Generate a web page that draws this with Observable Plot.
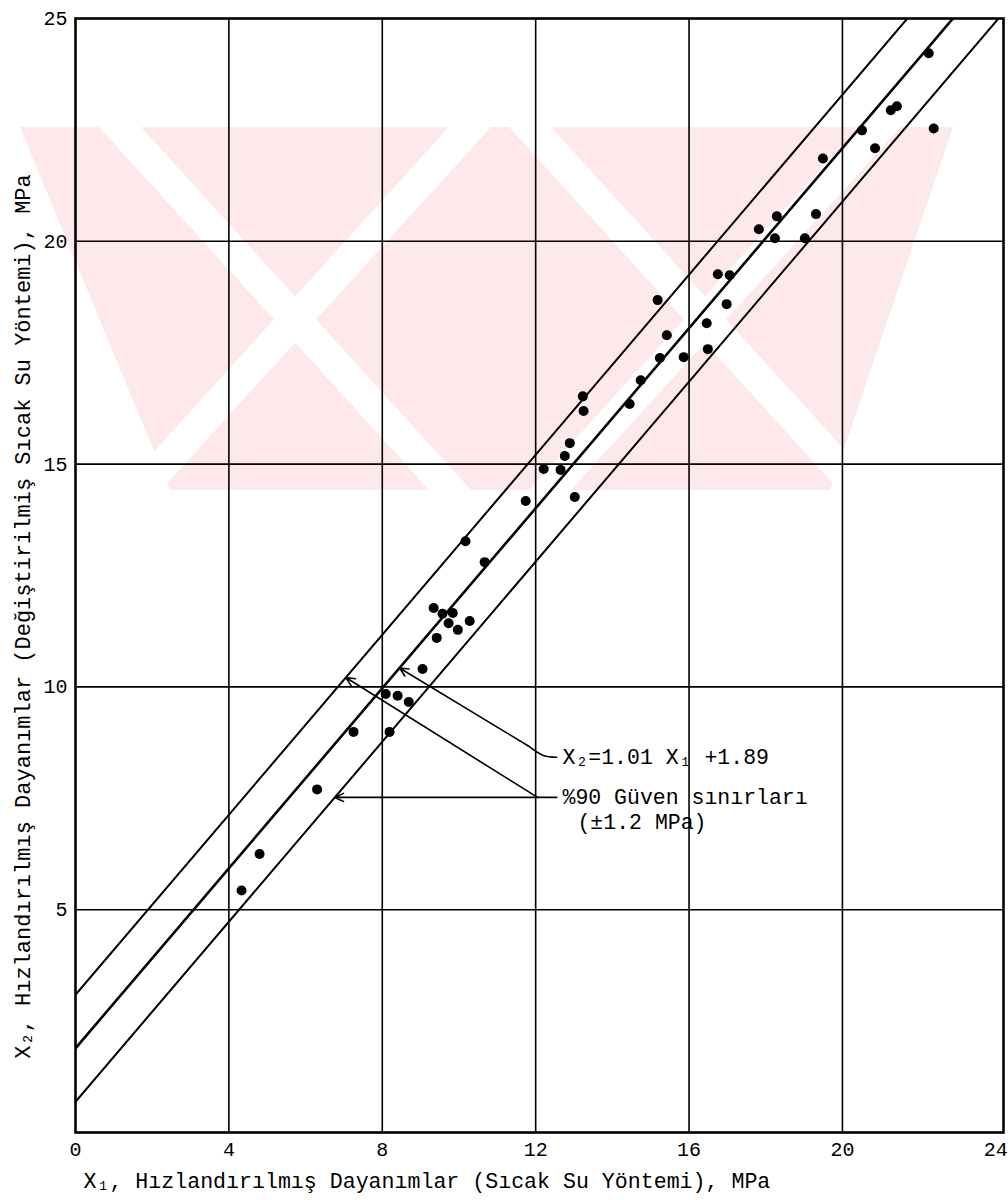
<!DOCTYPE html>
<html>
<head>
<meta charset="utf-8">
<script src="https://cdn.jsdelivr.net/npm/d3@7"></script>
<script src="https://cdn.jsdelivr.net/npm/@observablehq/plot@0.6"></script>
<style>
  body { margin: 0; background: #fff; }
  #chart { width: 1008px; height: 1200px; }
</style>
</head>
<body>
<div id="chart"></div>
<script>
// Accelerated (hot-water) strength X1 vs. modified hot-water strength X2, MPa
const x1Values = [4.33, 4.80, 6.30, 7.25, 8.19, 8.09, 8.40, 8.69, 9.05, 9.42,
  9.73, 9.97, 10.28, 9.34, 9.57, 9.84, 10.67, 10.17, 11.74, 12.21,
  12.65, 12.76, 12.89, 13.02, 13.23, 13.25, 14.45, 14.74, 15.18, 15.24,
  15.42, 15.86, 16.46, 16.49, 16.98, 16.75, 17.06, 17.82, 18.24, 18.29,
  19.02, 19.31, 19.49, 20.51, 20.85, 21.26, 21.42, 22.38, 22.25];
const x2Values = [5.43, 6.25, 7.70, 8.99, 8.99, 9.84, 9.80, 9.66, 10.40, 11.10,
  11.43, 11.28, 11.48, 11.77, 11.64, 11.66, 12.80, 13.27, 14.17, 14.89,
  14.87, 15.18, 15.47, 14.26, 16.52, 16.19, 16.35, 16.88, 18.68, 17.38,
  17.89, 17.40, 18.16, 17.58, 18.59, 19.26, 19.24, 20.27, 20.07, 20.56,
  20.07, 20.61, 21.86, 22.49, 22.09, 22.94, 23.03, 22.53, 24.22];

const xTicks = [0, 4, 8, 12, 16, 20, 24];
const yTicks = [5, 10, 15, 20, 25];
const xGrid = [4, 8, 12, 16, 20];
const yGrid = [5, 10, 15, 20];

// Fitted line X2 = 1.01 X1 + 1.89 with 90% confidence limits of ±1.2 MPa
const slope = 1.01;
const intercept = 1.89;
const halfBand = 1.2;
const xExtent = [0, 24.2];

const xTitle = "X₁, Hızlandırılmış Dayanımlar (Sıcak Su Yöntemi), MPa";
const yTitle = "X₂, Hızlandırılmış Dayanımlar (Değiştirilmiş Sıcak Su Yöntemi), MPa";
const eqLabel = "X₂=1.01 X₁ +1.89";
const bandLabel = "%90 Güven sınırları";
const bandValueLabel = "(±1.2 MPa)";

// where the annotation leaders touch the lines (X1 values / X2 value)
const eqTipX = 8.45;
const upperTipX = 7.05;
const lowerTipY = 7.52;
const eqLabelAt = {x: 12.70, y: 8.42};
const bandLabelAt = {x: 12.70, y: 7.52};
const bandValueAt = {x: 13.09, y: 6.96};

const fit = (x, off) => slope * x + intercept + off;

const points = x1Values.map((x, i) => ({x1: x, x2: x2Values[i]}));
const lines = [
  {id: "upper", off: halfBand, w: 2.0},
  {id: "fit", off: 0, w: 2.6},
  {id: "lower", off: -halfBand, w: 2.0}
].flatMap(l => xExtent.map(x => ({id: l.id, w: l.w, x, y: fit(x, l.off)})));

const eqStart = {x: eqLabelAt.x - 0.9, y: eqLabelAt.y + 0.26};
const bandStart = {x: bandLabelAt.x - 0.65, y: bandLabelAt.y};
const arrows = [
  {x1: eqStart.x, y1: eqStart.y, x2: eqTipX, y2: fit(eqTipX, 0)},
  {x1: bandStart.x, y1: bandStart.y, x2: upperTipX, y2: fit(upperTipX, halfBand)},
  {x1: bandStart.x, y1: bandStart.y, x2: (lowerTipY - intercept + halfBand) / slope, y2: lowerTipY}
];
const hooks = [
  {id: "eq", x: eqStart.x, y: eqStart.y},
  {id: "eq", x: eqStart.x + 0.4, y: eqLabelAt.y + 0.04},
  {id: "eq", x: eqLabelAt.x - 0.15, y: eqLabelAt.y},
  {id: "band", x: bandStart.x, y: bandStart.y},
  {id: "band", x: bandLabelAt.x - 0.15, y: bandLabelAt.y}
];

const font = "'Liberation Mono', 'DejaVu Sans Mono', monospace";

const svg = Plot.plot({
  width: 1008,
  height: 1200,
  marginTop: 18,
  marginRight: 5,
  marginBottom: 68,
  marginLeft: 75,
  style: {fontFamily: font, fontSize: "20px", color: "#000", background: "transparent"},
  x: {domain: xExtent, ticks: xTicks, tickSize: 0, tickPadding: 9, label: null},
  y: {domain: [0, 25], ticks: yTicks, tickSize: 0, tickPadding: 8, label: null},
  marks: [
    Plot.ruleX(xGrid, {stroke: "#000", strokeWidth: 1.6}),
    Plot.ruleY(yGrid, {stroke: "#000", strokeWidth: 1.6}),
    Plot.frame({stroke: "#000", strokeWidth: 2.6}),
    Plot.line(lines, {x: "x", y: "y", z: "id", strokeWidth: "w", stroke: "#000", clip: true}),
    Plot.dot(points, {x: "x1", y: "x2", r: 5, fill: "#000", stroke: null}),
    Plot.arrow(arrows, {x1: "x1", y1: "y1", x2: "x2", y2: "y2", stroke: "#000",
      strokeWidth: 1.6, headLength: 9, headAngle: 50}),
    Plot.line(hooks, {x: "x", y: "y", z: "id", curve: "catmull-rom", stroke: "#000", strokeWidth: 1.6}),
    Plot.text([eqLabel], {x: eqLabelAt.x, y: eqLabelAt.y, text: d => d, textAnchor: "start",
      fontSize: 21.5, fontFamily: font}),
    Plot.text([bandLabel], {x: bandLabelAt.x, y: bandLabelAt.y, text: d => d, textAnchor: "start",
      fontSize: 21.5, fontFamily: font}),
    Plot.text([bandValueLabel], {x: bandValueAt.x, y: bandValueAt.y, text: d => d, textAnchor: "start",
      fontSize: 21.5, fontFamily: font}),
    Plot.text([xTitle], {frameAnchor: "bottom-left", text: d => d, textAnchor: "start",
      dx: 8, dy: 55, fontSize: 21.6, fontFamily: font}),
    Plot.text([yTitle], {frameAnchor: "left", text: d => d, rotate: -90, textAnchor: "middle",
      dx: -53, dy: 41, fontSize: 22, fontFamily: font})
  ]
});

// faint striped seal behind the chart
const seal = d3.select(svg).insert("g", ":first-child");
const sealTop = 127, sealBottom = 490, sealRun = (sealBottom - sealTop) / 1.1;
seal.append("polygon")
  .attr("points", [[20, sealTop], [953, sealTop], [830, sealBottom], [170, sealBottom]].join(" "))
  .attr("fill", "#fde8eb");
const stripe = (xTop, dir, w) => [[xTop - w / 2, sealTop], [xTop + w / 2, sealTop],
  [xTop + w / 2 + dir * sealRun, sealBottom], [xTop - w / 2 + dir * sealRun, sealBottom]];
[[120, 1], [470, -1], [530, 1], [880, -1]].forEach(([xTop, dir]) => {
  seal.append("polygon").attr("points", stripe(xTop, dir, 42).join(" ")).attr("fill", "#fff");
});

document.getElementById("chart").append(svg);
</script>
</body>
</html>
